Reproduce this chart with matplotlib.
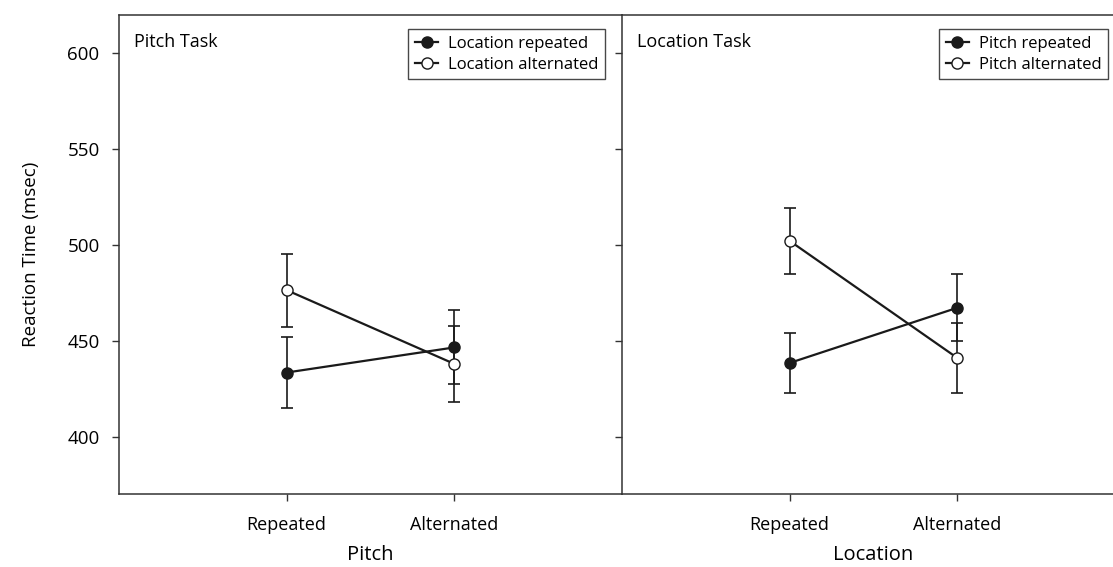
import matplotlib.pyplot as plt
import numpy as np

plt.rcParams['font.family'] = ['Open Sans', 'DejaVu Sans']

# values (msec)
levels = ['Repeated', 'Alternated']

pitch_loc_rep = [433.4, 446.5]
pitch_loc_rep_err = [18.5, 19.3]
pitch_loc_alt = [476.4, 437.9]
pitch_loc_alt_err = [19.0, 19.8]

loc_pitch_rep = [438.4, 467.2]
loc_pitch_rep_err = [15.8, 17.5]
loc_pitch_alt = [502.1, 441.0]
loc_pitch_alt_err = [17.4, 18.4]

panels = [
  ('Pitch Task', 'Pitch', 'Location repeated', 'Location alternated',
   pitch_loc_rep, pitch_loc_rep_err, pitch_loc_alt, pitch_loc_alt_err),
  ('Location Task', 'Location', 'Pitch repeated', 'Pitch alternated',
   loc_pitch_rep, loc_pitch_rep_err, loc_pitch_alt, loc_pitch_alt_err),
]

W, H = 1113, 567
fig = plt.figure(figsize=(W / 100, H / 100), dpi=100)
ax_w = 503 / W
ax_b = 73 / H
ax_h = 479 / H
axes = [fig.add_axes([119 / W, ax_b, ax_w, ax_h]),
        fig.add_axes([622 / W, ax_b, ax_w, ax_h])]

x = np.arange(1, len(levels) + 1)
for i, (ax, p) in enumerate(zip(axes, panels)):
  title, xlab, lab1, lab2, m1, e1, m2, e2 = p
  ax.errorbar(x, m1, yerr=e1, color='#1a1a1a', lw=1.6, marker='o', ms=8,
              mfc='#1a1a1a', mec='#1a1a1a', capsize=4, elinewidth=1.2,
              capthick=1.2, label=lab1, zorder=3)
  ax.errorbar(x, m2, yerr=e2, color='#1a1a1a', lw=1.6, marker='o', ms=8,
              mfc='white', mec='#1a1a1a', capsize=4, elinewidth=1.2,
              capthick=1.2, label=lab2, zorder=3)
  ax.set_xlim(0, 3)
  ax.set_ylim(370, 620)
  ax.set_xticks(x)
  ax.set_xticklabels(levels, fontsize=13)
  ax.set_yticks([400, 450, 500, 550, 600])
  ax.tick_params(direction='out', length=5, width=1, color='#333333')
  ax.tick_params(axis='x', pad=11)
  ax.tick_params(axis='y', pad=9)
  ax.set_xlabel(xlab, fontsize=14.5, labelpad=8)
  ax.text(0.03, 0.962, title, transform=ax.transAxes, ha='left', va='top',
          fontsize=13)
  handles, labels = ax.get_legend_handles_labels()
  handles = [h[0] for h in handles]
  leg = ax.legend(handles, labels, loc='upper right',
                  bbox_to_anchor=(0.967, 0.971), borderaxespad=0,
                  fontsize=12, frameon=True, fancybox=False,
                  handlelength=1.4, handletextpad=0.6, borderpad=0.4,
                  labelspacing=0.3)
  leg.get_frame().set_edgecolor('#1a1a1a')
  leg.get_frame().set_linewidth(1.0)
  for s in ax.spines.values():
    s.set_color('#333333')
    s.set_linewidth(1.1)
  ax.spines['right'].set_visible(False)
  if i == 0:
    ax.set_yticklabels([str(v) for v in [400, 450, 500, 550, 600]], fontsize=13.5)
    ax.set_ylabel('Reaction Time (msec)', fontsize=13.5, labelpad=20)
  else:
    ax.set_yticklabels([])

fig.savefig('out.png', dpi=100)
